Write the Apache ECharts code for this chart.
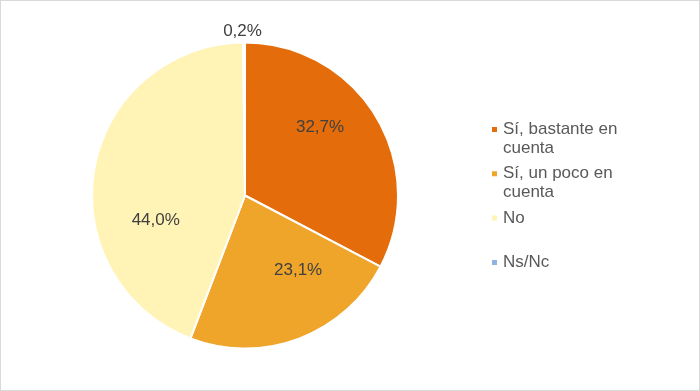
<!DOCTYPE html>
<html>
<head>
<meta charset="utf-8">
<script src="https://cdn.jsdelivr.net/npm/echarts@6/dist/echarts.min.js"></script>
<style>
html,body{margin:0;padding:0;background:#fff;}
#c{width:700px;height:391px;box-sizing:border-box;border:1px solid #d9d9d9;}
</style>
</head>
<body>
<div id="c"></div>
<script>
const categories = ['Sí, bastante en cuenta', 'Sí, un poco en cuenta', 'No', 'Ns/Nc'];
const values = [32.7, 23.1, 44.0, 0.2];
const colors = ['#E46C0A', '#EFA42A', '#FFF3B5', '#8EB4E3'];

// label nudges (styling, Excel "best fit" placement)
const labelNudge = [[7, -27], [25, 0], [-11, 39], [-2, -85]];

const chart = echarts.init(document.getElementById('c'), null, {renderer: 'canvas'});

const legends = categories.map(function (name, i) {
  const twoLine = name.indexOf(' cuenta') > 0;
  const markerCenter = 129.5 + i * 44.3 - 1;
  return {
    show: true,
    data: [name],
    orient: 'vertical',
    left: 489,
    top: twoLine ? markerCenter - 28.5 : markerCenter - 9.5,
    padding: 0,
    icon: 'rect',
    itemWidth: 7,
    itemHeight: 7,
    itemGap: 0,
    selectedMode: false,
    formatter: function (n) {
      return n.indexOf(' cuenta') > 0 ? '\n' + n.replace(' cuenta', '\ncuenta') : n;
    },
    textStyle: {
      fontFamily: 'Liberation Sans, Arial, sans-serif',
      fontSize: 17,
      color: '#595959',
      lineHeight: 19
    }
  };
});

const option = {
  animation: false,
  backgroundColor: '#ffffff',
  color: colors,
  legend: legends,
  series: [{
    type: 'pie',
    center: [244, 194.5],
    radius: [0, 153],
    startAngle: 90,
    clockwise: true,
    avoidLabelOverlap: false,
    silent: true,
    itemStyle: { borderColor: '#ffffff', borderWidth: 2 },
    label: {
      show: true,
      position: 'inside',
      fontFamily: 'Liberation Sans, Arial, sans-serif',
      fontSize: 17,
      color: '#404040',
      formatter: function (p) { return p.value.toFixed(1).replace('.', ',') + '%'; }
    },
    labelLine: { show: false },
    labelLayout: function (params) {
      const d = labelNudge[params.dataIndex];
      return { dx: d[0], dy: d[1] };
    },
    emphasis: { disabled: true },
    data: categories.map(function (n, i) { return { name: n, value: values[i] }; })
  }]
};
chart.setOption(option);
</script>
</body>
</html>
